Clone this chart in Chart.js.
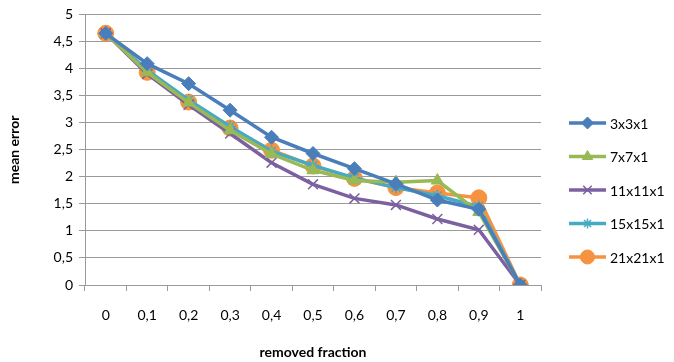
<!DOCTYPE html>
<html>
<head>
<meta charset="utf-8">
<script src="https://cdn.jsdelivr.net/npm/chart.js@4.4.1/dist/chart.umd.min.js"></script>
<style>
  html, body { margin: 0; padding: 0; background: #fff; }
  #wrap { width: 674px; height: 362px; }
</style>
</head>
<body>
<div id="wrap"><canvas id="chart" width="674" height="362"></canvas></div>
<script>
// removed fraction categories
const fractions = ['0', '0,1', '0,2', '0,3', '0,4', '0,5', '0,6', '0,7', '0,8', '0,9', '1'];

// mean error per window size
const err3x3 = [4.65, 4.09, 3.72, 3.23, 2.73, 2.43, 2.15, 1.87, 1.57, 1.40, 0];
const err7x7 = [4.65, 3.93, 3.37, 2.86, 2.42, 2.12, 1.93, 1.90, 1.93, 1.35, 0];
const err11x11 = [4.65, 3.90, 3.33, 2.80, 2.26, 1.86, 1.60, 1.48, 1.22, 1.02, 0];
const err15x15 = [4.65, 3.97, 3.42, 2.93, 2.47, 2.21, 1.98, 1.80, 1.65, 1.45, 0];
const err21x21 = [4.65, 3.93, 3.38, 2.90, 2.49, 2.20, 1.97, 1.80, 1.70, 1.61, 0];

const seriesNames = ['3x3x1', '7x7x1', '11x11x1', '15x15x1', '21x21x1'];

const FONT = 'Lato, "Open Sans", sans-serif';
const GRID = '#9a9a9a';

function mkSet(label, data, color, style, radius) {
  return {
    label: label,
    data: data,
    borderColor: color,
    backgroundColor: color,
    borderWidth: 3.5,
    pointStyle: style,
    pointRadius: radius,
    pointHoverRadius: radius,
    pointBorderWidth: style === 'crossRot' || style === 'star' ? 1.5 : 1,
    pointBorderColor: color,
    pointBackgroundColor: color,
    tension: 0
  };
}

// hand drawn legend on the right, using each dataset's own style
const sideLegend = {
  id: 'sideLegend',
  afterDraw(chart) {
    const ctx = chart.ctx;
    ctx.save();
    chart.data.datasets.forEach((ds, i) => {
      const y = 123 + i * 33.5;
      ctx.strokeStyle = ds.borderColor;
      ctx.lineWidth = 3.5;
      ctx.beginPath();
      ctx.moveTo(569, y);
      ctx.lineTo(606, y);
      ctx.stroke();
      ctx.fillStyle = ds.pointBackgroundColor;
      ctx.strokeStyle = ds.pointBorderColor;
      ctx.lineWidth = ds.pointBorderWidth;
      Chart.helpers.drawPoint(ctx, {
        pointStyle: ds.pointStyle,
        radius: ds.pointRadius - 1,
        rotation: 0,
        borderWidth: ds.pointBorderWidth
      }, 587.5, y);
      ctx.fillStyle = '#000';
      ctx.font = '14px ' + FONT;
      ctx.textBaseline = 'middle';
      ctx.textAlign = 'left';
      ctx.fillText(ds.label, 610, y + 1);
    });
    ctx.restore();
  }
};

new Chart(document.getElementById('chart'), {
  type: 'line',
  data: {
    labels: fractions,
    datasets: [
      mkSet(seriesNames[0], err3x3, '#4a7ebb', 'rectRot', 7),
      mkSet(seriesNames[1], err7x7, '#98b954', 'triangle', 7),
      mkSet(seriesNames[2], err11x11, '#7d60a0', 'crossRot', 7),
      mkSet(seriesNames[3], err15x15, '#46aac5', 'star', 6),
      mkSet(seriesNames[4], err21x21, '#f69240', 'circle', 8)
    ]
  },
  plugins: [sideLegend],
  options: {
    responsive: false,
    animation: false,
    layout: { padding: { top: 14, right: 133, left: 0, bottom: 0 } },
    plugins: {
      legend: { display: false },
      tooltip: { enabled: false }
    },
    scales: {
      x: {
        type: 'category',
        offset: true,
        grid: {
          offset: true,
          drawOnChartArea: false,
          color: GRID,
          tickLength: 6
        },
        border: { color: GRID, width: 1 },
        ticks: {
          color: '#000',
          font: { family: FONT, size: 14 },
          padding: 16,
          maxRotation: 0,
          autoSkip: false
        },
        title: {
          display: true,
          text: 'removed fraction',
          color: '#000',
          font: { family: FONT, size: 14, weight: 'bold' },
          padding: { top: 10, bottom: 1 }
        },
        afterFit(scale) { scale.height = 77; }
      },
      y: {
        min: 0,
        max: 5,
        grid: {
          color: GRID,
          tickLength: 6
        },
        border: { color: GRID, width: 1 },
        ticks: {
          stepSize: 0.5,
          color: '#000',
          font: { family: FONT, size: 14 },
          padding: 6,
          callback: v => String(v).replace('.', ',')
        },
        title: {
          display: true,
          text: 'mean error',
          color: '#000',
          font: { family: FONT, size: 14, weight: 'bold' },
          padding: { top: 6, bottom: 4 }
        },
        afterFit(scale) { scale.width = 85; }
      }
    }
  }
});
</script>
</body>
</html>
